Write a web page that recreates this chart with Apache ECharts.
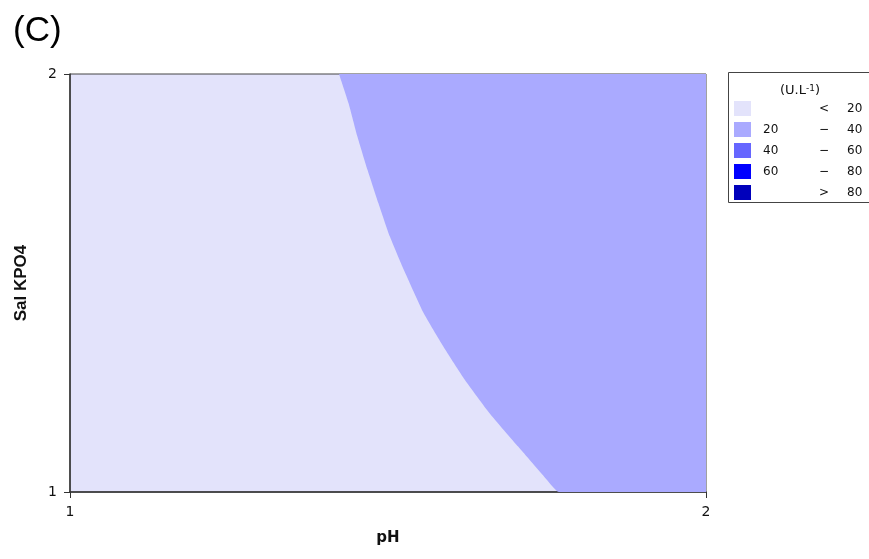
<!DOCTYPE html>
<html>
<head>
<meta charset="utf-8">
<script src="https://cdn.jsdelivr.net/npm/echarts@6/dist/echarts.min.js"></script>
<style>
  html, body { margin: 0; padding: 0; background: #fff; }
  #chart { width: 869px; height: 559px; }
</style>
</head>
<body>
<div id="chart"></div>
<script>
// boundary between the "< 20" and "20 - 40" zones (pH, Sal KPO4)
const boundaryPH  = [1.423, 1.438, 1.452, 1.468, 1.485, 1.503, 1.525, 1.556, 1.587, 1.621, 1.660, 1.705, 1.750, 1.769, 2.0];
const boundarySal = [2.0,   1.930, 1.850, 1.770, 1.691, 1.611, 1.531, 1.428, 1.348, 1.268, 1.188, 1.108, 1.029, 1.0,   1.0];
const xTicks = [1, 2];
const yTicks = [1, 2];
const legendColors = ["#e3e3fb", "#aaaaff", "#6666ff", "#0000ff", "#0000bb"];
const legendFrom = ["", "20", "40", "60", ""];
const legendSign = ["<", "\u2212", "\u2212", "\u2212", ">"];
const legendTo = ["20", "40", "60", "80", "80"];

const chart = echarts.init(document.getElementById("chart"));
const font = "DejaVu Sans";

const legendItems = [];
legendItems.push({
  type: "rect",
  shape: { x: 728.5, y: 72.5, width: 145, height: 130 },
  style: { fill: "#fff", stroke: "#444", lineWidth: 1 }
});
legendItems.push({
  type: "text",
  x: 780, y: 84,
  style: {
    text: "(U.L{s|-1})",
    font: "13px " + font,
    fill: "#111",
    rich: { s: { fontSize: 9, verticalAlign: "top", fontFamily: font, fill: "#111" } }
  }
});
legendColors.forEach((c, i) => {
  const cy = 109 + i * 21;
  legendItems.push({
    type: "rect",
    shape: { x: 734, y: cy - 8, width: 17, height: 15 },
    style: { fill: c }
  });
  legendItems.push({
    type: "text", x: 763, y: cy,
    style: { text: legendFrom[i], font: "12px " + font, fill: "#111", textVerticalAlign: "middle" }
  });
  legendItems.push({
    type: "text", x: 824, y: cy,
    style: { text: legendSign[i], font: "12px " + font, fill: "#111", textAlign: "center", textVerticalAlign: "middle" }
  });
  legendItems.push({
    type: "text", x: 847, y: cy,
    style: { text: legendTo[i], font: "12px " + font, fill: "#111", textVerticalAlign: "middle" }
  });
});

chart.setOption({
  animation: false,
  title: {
    text: "(C)",
    left: 8, top: 9,
    textStyle: { fontFamily: "Liberation Sans", fontSize: 35, fontWeight: "normal", color: "#000" }
  },
  grid: {
    left: 70, top: 74, right: 163, bottom: 67,
    show: true,
    backgroundColor: legendColors[0],
    borderColor: "#444",
    borderWidth: 1
  },
  xAxis: {
    type: "value",
    min: xTicks[0], max: xTicks[1], interval: 1,
    name: "pH",
    nameLocation: "middle",
    nameGap: 39,
    nameTextStyle: { fontFamily: font, fontWeight: "bold", fontSize: 15, color: "#111" },
    axisLine: { show: true, lineStyle: { color: "#333", width: 1.5 } },
    axisTick: { show: true, length: 6, lineStyle: { color: "#333" } },
    axisLabel: { fontFamily: font, fontSize: 14, color: "#111", margin: 13 },
    splitLine: { show: false }
  },
  yAxis: {
    type: "value",
    min: yTicks[0], max: yTicks[1], interval: 1,
    name: "Sal KPO4",
    nameLocation: "middle",
    nameGap: 40,
    nameTextStyle: { fontFamily: "Liberation Sans", fontWeight: "bold", fontSize: 17, color: "#111" },
    axisLine: { show: true, lineStyle: { color: "#333", width: 1.5 } },
    axisTick: { show: true, length: 6, lineStyle: { color: "#333" } },
    axisLabel: { fontFamily: font, fontSize: 14, color: "#111", margin: 13 },
    splitLine: { show: false }
  },
  series: [{
    type: "line",
    data: boundaryPH.map((x, i) => [x, boundarySal[i]]),
    smooth: 0.15,
    showSymbol: false,
    lineStyle: { width: 0 },
    areaStyle: { origin: "end", color: legendColors[1], opacity: 1 },
    z: 1
  }],
  graphic: legendItems
});
</script>
</body>
</html>
